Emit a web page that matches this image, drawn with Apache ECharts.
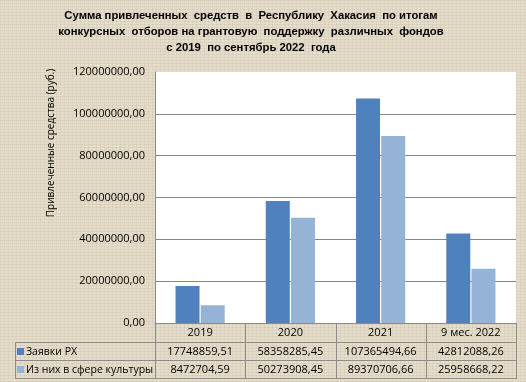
<!DOCTYPE html>
<html><head><meta charset="utf-8">
<script src="https://cdn.jsdelivr.net/npm/echarts@6/dist/echarts.min.js"></script>
<style>
html,body{margin:0;padding:0;}
#c{width:526px;height:382px;
background:
 repeating-linear-gradient(0deg, rgba(150,130,90,0.11) 0 1px, transparent 1px 3px),
 repeating-linear-gradient(90deg, rgba(150,130,90,0.09) 0 1px, transparent 1px 4px),
 #e5ddcb;}
</style></head>
<body><div id="c"></div>
<script>
const titleLines = [
  'Сумма привлеченных  средств  в  Республику  Хакасия  по итогам',
  'конкурсных  отборов на грантовую  поддержку  различных  фондов',
  'с 2019  по сентябрь 2022  года'
];
const yAxisName = 'Привлеченные средства (руб.)';
const categories = ['2019', '2020', '2021', '9 мес. 2022'];
const seriesNames = ['Заявки РХ', 'Из них в сфере культуры'];
const applications = [17748859.51, 58358285.45, 107365494.66, 42812088.26];
const culture = [8472704.59, 50273908.45, 89370706.66, 25958668.22];
const yMin = 0, yMax = 120000000, yInterval = 20000000;
const colors = ['#4f81bd', '#95b3d7'];

const fmt = v => v.toFixed(2).replace('.', ',');
const FONT = 'Open Sans';
const GRID = {left: 155, right: 10, top: 72, bottom: 59};

const chart = echarts.init(document.getElementById('c'), null, {renderer: 'canvas'});
chart.setOption({
  backgroundColor: 'transparent',
  animation: false,
  textStyle: {fontFamily: FONT},
  grid: Object.assign({show: true, backgroundColor: '#ffffff', borderWidth: 0}, GRID),
  xAxis: {
    type: 'category', data: categories,
    axisLine: {show: true, lineStyle: {color: '#8c8c8c', width: 1}},
    axisTick: {show: false},
    axisLabel: {color: '#000', fontSize: 11, fontFamily: FONT, margin: 4}
  },
  yAxis: {
    type: 'value', min: yMin, max: yMax, interval: yInterval,
    axisLine: {show: true, lineStyle: {color: '#8c8c8c', width: 1}},
    axisTick: {show: false},
    axisLabel: {color: '#000', fontSize: 11, fontFamily: FONT, margin: 10, formatter: v => fmt(v)},
    splitLine: {show: true, showMinLine: false, showMaxLine: false, lineStyle: {color: '#868686', width: 1}}
  },
  series: [
    {name: seriesNames[0], type: 'bar', data: applications, barWidth: 24, barGap: '5%', itemStyle: {color: colors[0]}},
    {name: seriesNames[1], type: 'bar', data: culture, barWidth: 24, barGap: '5%', itemStyle: {color: colors[1]}}
  ]
});

// Build title, axis name and data table
const W = 526, H = 382;
const g = [];
titleLines.forEach((t, i) => {
  g.push({type: 'text', x: 251, y: 16 + i * 16, style: {text: t, font: 'bold 11.3px "Liberation Sans", Arial', fill: '#000', textAlign: 'center', textVerticalAlign: 'middle'}});
});
g.push({type: 'text', x: 51, y: 143, rotation: Math.PI / 2,
  style: {text: yAxisName, font: '10px "' + FONT + '"', fill: '#000', textAlign: 'center', textVerticalAlign: 'middle'}});

const lineC = '#8c8c8c';
const gl = GRID.left, gr = W - GRID.right;
const band = (gr - gl) / categories.length;
const yTop = H - GRID.bottom, rowH = [19, 18, 18];
const y1 = yTop + rowH[0], y2 = y1 + rowH[1], y3 = y2 + rowH[2];
const tableLeft = 15;
const hl = (x1, x2, y) => g.push({type: 'line', shape: {x1: x1, y1: Math.round(y) + 0.5, x2: x2, y2: Math.round(y) + 0.5}, style: {stroke: lineC, lineWidth: 1}});
const vl = (x, ya, yb) => g.push({type: 'line', shape: {x1: Math.round(x) + 0.5, y1: ya, x2: Math.round(x) + 0.5, y2: yb}, style: {stroke: lineC, lineWidth: 1}});
hl(tableLeft, gr, y1); hl(tableLeft, gr, y2); hl(tableLeft, gr, y3);
vl(tableLeft, y1, y3 + 1);
for (let i = 0; i <= categories.length; i++) vl(gl + band * i, yTop, y3 + 1);

const rowsData = [applications, culture];
rowsData.forEach((arr, r) => {
  const yc = (r === 0 ? (y1 + y2) / 2 : (y2 + y3) / 2) + 1;
  g.push({type: 'rect', shape: {x: 17, y: Math.round(yc) - 4, width: 7, height: 7}, style: {fill: colors[r]}});
  g.push({type: 'text', x: 26, y: yc, style: {text: seriesNames[r], font: '10.5px "' + FONT + '"', fill: '#000', textAlign: 'left', textVerticalAlign: 'middle'}});
  arr.forEach((v, i) => {
    const xc = chart.convertToPixel({xAxisIndex: 0}, categories[i]);
    g.push({type: 'text', x: xc, y: yc, style: {text: fmt(v), font: '11px "' + FONT + '"', fill: '#000', textAlign: 'center', textVerticalAlign: 'middle'}});
  });
});
chart.setOption({graphic: {elements: g}});
</script></body></html>
